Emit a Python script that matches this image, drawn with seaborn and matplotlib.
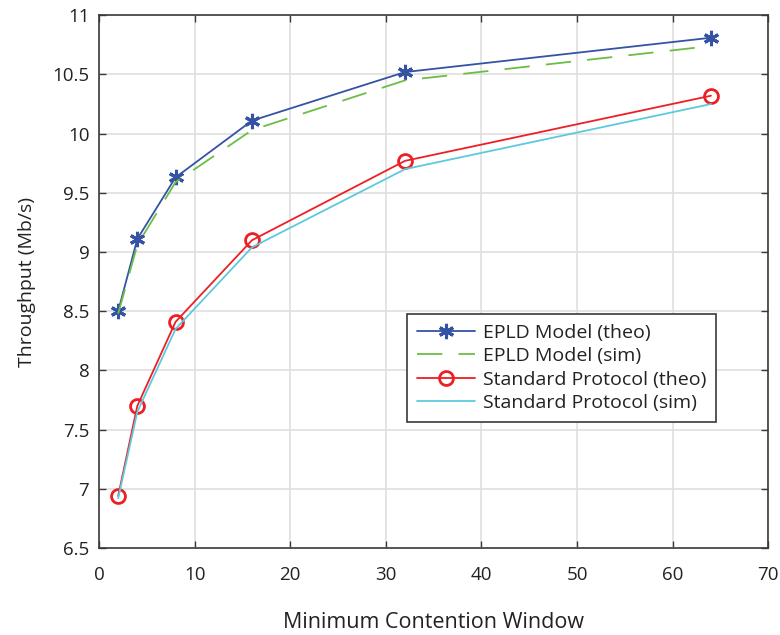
import matplotlib
matplotlib.use("Agg")
import matplotlib.pyplot as plt
import seaborn as sns

cw = [2, 4, 8, 16, 32, 64]
epld_theo = [8.50, 9.11, 9.63, 10.11, 10.52, 10.81]
epld_sim = [8.48, 9.06, 9.59, 10.03, 10.45, 10.74]
std_theo = [6.94, 7.70, 8.41, 9.10, 9.77, 10.32]
std_sim = [6.92, 7.65, 8.35, 9.04, 9.70, 10.25]

labels = ["EPLD Model (theo)", "EPLD Model (sim)", "Standard Protocol (theo)", "Standard Protocol (sim)"]
xticks = [0, 10, 20, 30, 40, 50, 60, 70]
yticks = [6.5, 7, 7.5, 8, 8.5, 9, 9.5, 10, 10.5, 11]

sns.set_theme(style="whitegrid")
plt.rcParams['font.family'] = ['Open Sans', 'DejaVu Sans']

fig = plt.figure(figsize=(7.8, 6.35), dpi=100)
ax = fig.add_axes([0.127, 0.137, 0.858, 0.839])

blue = "#3453a4"
green = "#6cbd45"
red = "#ee1f24"
cyan = "#5ec9dd"

sns.lineplot(x=cw, y=epld_theo, ax=ax, color=blue, lw=1.3, marker=(6, 2, 0),
             markersize=11, markeredgewidth=2.2, markeredgecolor=blue, label=labels[0])
sns.lineplot(x=cw, y=epld_sim, ax=ax, color=green, lw=1.3, label=labels[1])
ax.lines[-1].set_linestyle((0, (14, 9)))
sns.lineplot(x=cw, y=std_theo, ax=ax, color=red, lw=1.3, marker="o", markersize=10,
             markerfacecolor="none", markeredgewidth=2, markeredgecolor=red, label=labels[2])
sns.lineplot(x=cw, y=std_sim, ax=ax, color=cyan, lw=1.3, label=labels[3])

ax.set_xlim(0, 70)
ax.set_ylim(6.5, 11)
ax.set_xticks(xticks)
ax.set_yticks(yticks)
ax.set_xticklabels([str(t) for t in xticks])
ax.set_yticklabels([("%g" % t) for t in yticks])
ax.grid(True, color="#dfdfdf", lw=1.2)
ax.set_facecolor("white")
for s in ax.spines.values():
    s.set_visible(True)
    s.set_color("#3a3a3a")
    s.set_linewidth(1.2)
ax.tick_params(axis="both", direction="in", length=5, width=1, colors="#3a3a3a",
               labelsize=13.5, labelcolor="#222222", top=True, right=True,
               bottom=True, left=True)
ax.tick_params(axis="x", pad=13)
ax.tick_params(axis="y", pad=7)
ax.set_xlabel("Minimum Contention Window", fontsize=15.5, color="#222222", labelpad=20)
ax.set_ylabel("Throughput (Mb/s)", fontsize=14, color="#222222", labelpad=12)

leg = ax.legend(loc="upper left", bbox_to_anchor=(0.4604, 0.439), borderaxespad=0,
                fontsize=14, frameon=True, fancybox=False, framealpha=1,
                edgecolor="#3a3a3a", handlelength=3.0, borderpad=0.5,
                labelspacing=0.28, handletextpad=0.4)
leg.get_frame().set_linewidth(1.2)
for t in leg.get_texts():
    t.set_color("#222222")

fig.savefig("out.png", dpi=100)
